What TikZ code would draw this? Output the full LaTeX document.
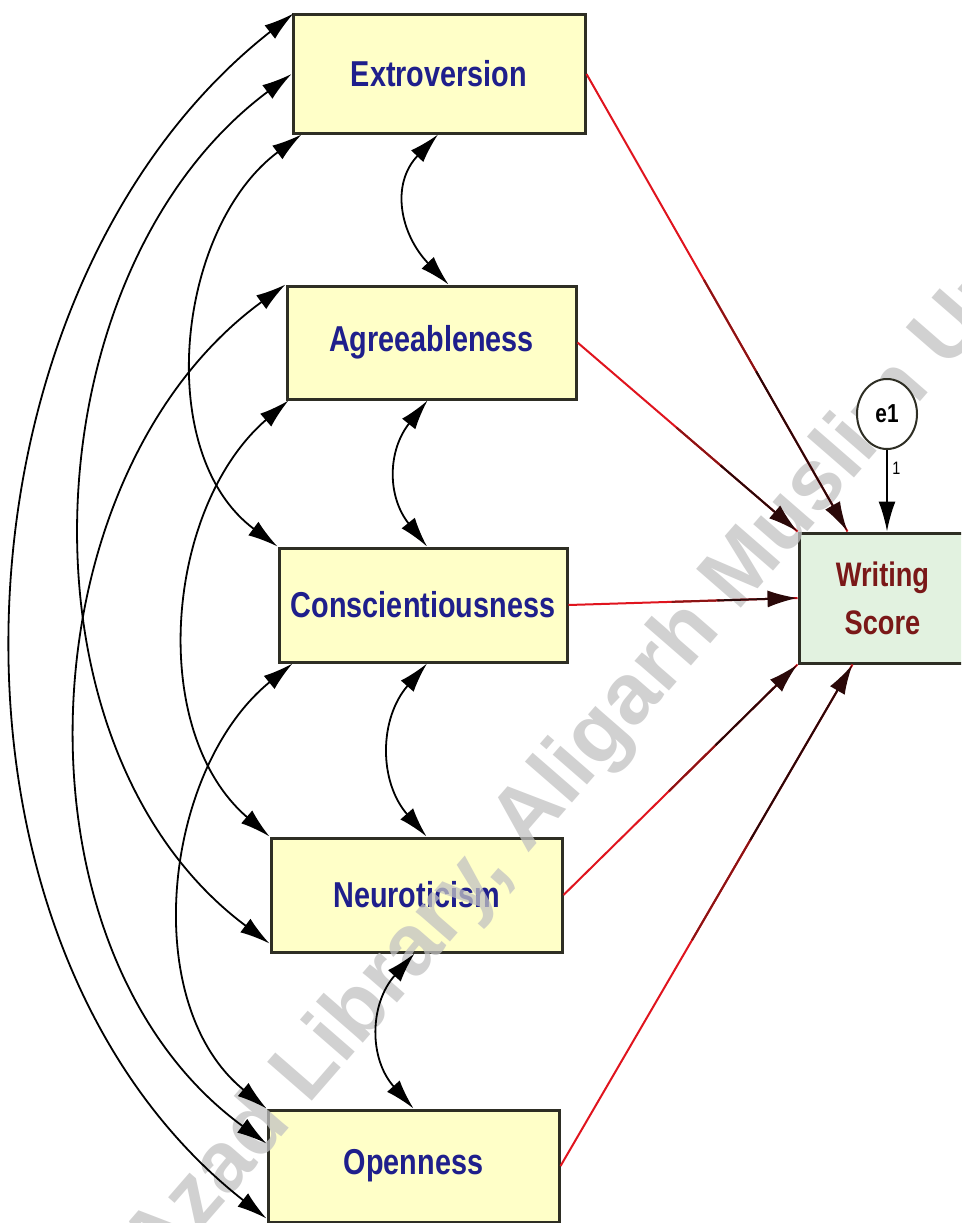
\documentclass[tikz,border=0pt]{standalone}
\usepackage{fontspec}
\setmainfont{Liberation Sans}
\newfontfamily\boxfont{Liberation Sans}[FakeStretch=0.8]
\usetikzlibrary{arrows.meta,calc,shapes.geometric}
\definecolor{boxfill}{HTML}{FFFFC8}
\definecolor{wfill}{HTML}{E2F2E0}
\definecolor{boxline}{HTML}{2E2E24}
\definecolor{txtblue}{HTML}{1F1F8C}
\definecolor{txtred}{HTML}{7A1818}
\definecolor{regred}{HTML}{E0141E}
\definecolor{regmid}{HTML}{8C1414}
\definecolor{regdark}{HTML}{2A0808}
\definecolor{wmark}{HTML}{C2C2C2}
\tikzset{
  var/.style={draw=boxline, line width=3pt, fill=boxfill, inner sep=0pt,
    font=\boxfont\bfseries\fontsize{36}{40}\selectfont, text=txtblue},
  wvar/.style={draw=boxline, line width=3pt, fill=wfill, inner sep=0pt, align=center,
    font=\boxfont\bfseries\fontsize{34}{48}\selectfont, text=txtred},
  errvar/.style={draw=boxline, line width=2pt, ellipse, fill=white, inner sep=0pt,
    minimum width=60pt, minimum height=70pt, font=\boxfont\bfseries\fontsize{26}{26}\selectfont},
  cov/.style={draw=black, line width=1.8pt,
    {Latex[length=30pt,width=17pt]}-{Latex[length=30pt,width=17pt]}},
  regline/.style={line width=2pt},
  tipline/.style={line width=2pt, -{Latex[length=30pt,width=17pt]}},
}
\newcommand\regarrow[2]{%
  \draw[regline, draw=regred] (#1) -- (#2);
  \draw[regline, draw=regmid] ($(#1)!0.45!(#2)$) -- ($(#1)!0.66!(#2)$);
  \draw[tipline, draw=regdark, fill=black] ($(#1)!0.65!(#2)$) -- (#2);
}
\begin{document}
\begin{tikzpicture}[x=1pt, y=-1pt]
\useasboundingbox (0,0) rectangle (961,1223);
\fill[white] (0,0) rectangle (961,1223);
\clip (0,0) rectangle (961,1223);

% boxes
\node[var, minimum width=292pt, minimum height=118pt] (E) at (439,74) {Extroversion};
\node[var, minimum width=289pt, minimum height=113pt] (A) at (431.5,342.5) {Agreeableness};
\node[var, minimum width=288pt, minimum height=114pt] (C) at (423,605) {Conscientiousness};
\node[var, minimum width=291pt, minimum height=114pt] (N) at (416.5,895) {Neuroticism};
\node[var, minimum width=291pt, minimum height=112pt] (O) at (413.5,1166) {Openness};
\node[wvar, minimum width=167pt, minimum height=130pt] (W) at (882.5,598) {Writing\\Score};

% watermark
\node[rotate=49, text=wmark, opacity=0.75, font=\bfseries\fontsize{86}{86}\selectfont]
  (wm) at (552,792) {Maulana Azad Library, Aligarh Muslim University};

\node[errvar] (e1) at (887,414) {e1};

% error arrow
\coordinate (etip) at (e1.south |- W.north);
\draw[tipline, draw=black, fill=black] (e1.south) -- node[pos=0.22, right=1pt, font=\boxfont\fontsize{18}{18}\selectfont] (one) {1} (etip);

% regressions
\coordinate (Wt) at ([xshift=-35pt]W.north);
\coordinate (Wb) at ([xshift=-30pt]W.south);
\regarrow{E.east}{Wt}
\regarrow{A.east}{W.north west}
\regarrow{C.east}{W.west}
\regarrow{N.east}{W.south west}
\regarrow{O.east}{Wb}

% adjacent covariances
\draw[cov] ([xshift=-1pt]E.south) .. controls +(-48,50) and +(-48,-50) .. ([xshift=17pt]A.north);
\draw[cov] ([xshift=-4pt]A.south) .. controls +(-40,50) and +(-40,-50) .. ([xshift=4pt]C.north);
\draw[cov] ([xshift=4pt]C.south) .. controls +(-48,55) and +(-48,-55) .. ([xshift=10pt]N.north);
\draw[cov] ([xshift=-2pt]N.south) .. controls +(-45,50) and +(-45,-50) .. (O.north);

% long covariances
\draw[cov] ([xshift=2pt]E.north west) .. controls +(-354,278) and +(-354,-278) .. ([yshift=5pt]O.south west);
\draw[cov] (E.west) .. controls +(-263,196) and +(-263,-196) .. ([yshift=10pt]N.south west);
\draw[cov] ([xshift=10pt]E.south west) .. controls +(-125,93) and +(-125,-93) .. (C.north west);
\draw[cov] (A.north west) .. controls +(-263,192) and +(-263,-192) .. ([yshift=-35pt]O.north west);
\draw[cov] ([xshift=3pt]A.south west) .. controls +(-123,106) and +(-123,-106) .. (N.north west);
\draw[cov] ([xshift=15pt]C.south west) .. controls +(-129,105) and +(-129,-105) .. (O.north west);
\end{tikzpicture}
\end{document}
